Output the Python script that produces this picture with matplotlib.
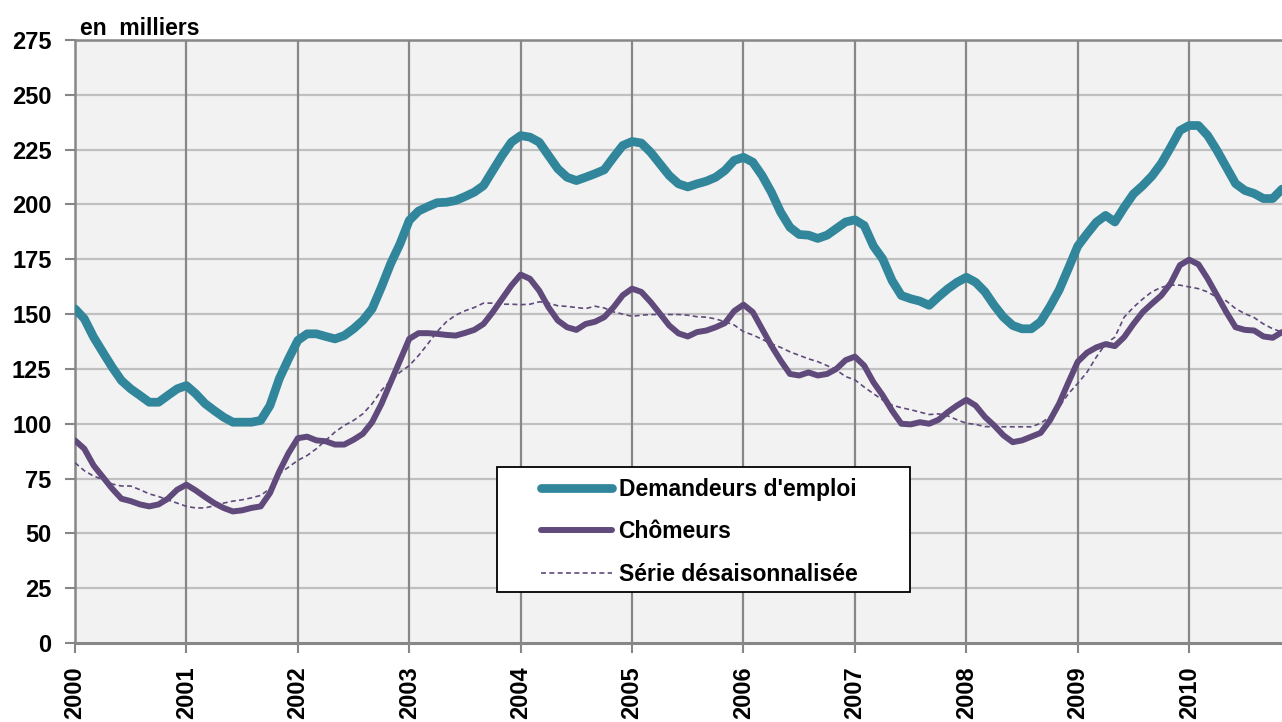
"""demandeurs d'emploi et chomeurs, series mensuelles 2000-2010"""

import matplotlib
matplotlib.use('Agg')
import matplotlib.pyplot as plt
from matplotlib.patches import Rectangle
import numpy as np

# monthly values, jan 2000 -> nov 2010 (en milliers)
demandeurs = [
    152.4, 147.9, 139.5, 132.6, 125.8, 119.7, 115.9, 112.9, 109.8, 109.8, 112.9, 115.9,
    117.4, 113.7, 109.2, 106.0, 103.0, 100.7, 100.7, 100.7, 101.5, 108.3, 120.5, 129.6,
    138.0, 141.0, 141.0, 139.8, 138.7, 140.2, 143.3, 147.1, 152.4, 162.3, 173.0, 182.0,
    192.7, 197.0, 199.0, 200.8, 201.0, 201.8, 203.6, 205.6, 208.6, 215.5, 222.3, 228.4,
    231.4, 230.7, 228.4, 222.3, 216.3, 212.4, 210.9, 212.4, 214.0, 215.8, 221.5, 226.9,
    228.7, 228.0, 223.8, 218.5, 213.2, 209.4, 208.0, 209.4, 210.6, 212.4, 215.5, 220.1,
    221.5, 219.3, 213.2, 205.6, 196.5, 189.6, 186.3, 186.0, 184.5, 186.0, 189.0, 192.0,
    193.0, 190.4, 181.0, 175.1, 165.3, 158.5, 157.0, 155.9, 154.0, 157.9, 161.5, 164.5,
    166.8, 164.5, 160.2, 154.0, 148.6, 144.8, 143.3, 143.3, 146.5, 153.3, 161.0, 170.9,
    181.0, 186.6, 191.9, 195.0, 192.0, 198.7, 204.8, 208.6, 213.0, 218.7, 226.0, 233.7,
    236.0, 236.0, 231.4, 224.6, 217.0, 209.5, 206.4, 205.0, 202.7, 202.7, 207.0,
]

chomeurs = [
    92.4, 88.6, 81.0, 75.7, 70.4, 65.8, 64.7, 63.2, 62.3, 63.2, 65.8, 69.9,
    72.2, 69.6, 66.6, 63.8, 61.6, 60.0, 60.5, 61.6, 62.3, 68.4, 78.2, 86.6,
    93.4, 94.1, 92.4, 92.0, 90.5, 90.5, 92.7, 95.4, 100.7, 109.0, 118.9, 128.8,
    138.7, 141.3, 141.3, 141.0, 140.5, 140.2, 141.4, 142.8, 145.5, 150.9, 157.0, 163.0,
    168.0, 166.1, 160.7, 153.1, 147.1, 144.0, 142.8, 145.5, 146.5, 148.6, 153.1, 158.6,
    161.6, 160.1, 155.5, 150.2, 144.8, 141.2, 139.8, 141.8, 142.5, 144.0, 145.9, 151.4,
    154.3, 150.9, 143.3, 135.6, 128.8, 122.7, 122.0, 123.4, 122.0, 122.7, 125.0, 129.0,
    130.6, 126.5, 118.9, 112.9, 106.0, 100.0, 99.7, 100.7, 100.0, 101.8, 105.3, 108.3,
    110.9, 108.3, 103.1, 99.2, 94.7, 91.6, 92.4, 94.1, 95.8, 101.5, 109.2, 118.9,
    128.3, 132.4, 134.8, 136.3, 135.4, 139.5, 145.5, 150.9, 154.8, 158.5, 164.0, 172.3,
    174.8, 172.7, 166.1, 158.5, 150.9, 144.0, 142.8, 142.5, 139.8, 139.2, 141.8,
]

chomeurs_cvs = [
    82.2, 78.6, 76.1, 74.6, 72.5, 71.6, 71.6, 69.9, 68.0, 66.8, 65.3, 63.8,
    62.3, 61.6, 61.6, 62.6, 63.8, 64.7, 65.3, 66.2, 67.3, 70.4, 77.2, 80.2,
    83.3, 85.5, 88.6, 92.4, 96.2, 99.2, 101.5, 104.5, 109.1, 115.2, 119.7, 123.5,
    126.5, 131.1, 136.4, 142.0, 146.5, 149.5, 151.5, 153.0, 155.0, 155.0, 154.5, 154.5,
    154.3, 154.5, 155.6, 155.0, 153.8, 153.5, 153.0, 152.5, 153.6, 152.8, 151.0, 150.0,
    149.0, 149.5, 149.8, 149.8, 149.8, 149.8, 149.5, 148.8, 148.6, 147.8, 146.5, 145.0,
    142.0, 140.5, 138.5, 136.5, 134.8, 132.8, 131.2, 129.6, 128.3, 126.5, 124.5, 121.5,
    120.0, 116.7, 113.7, 110.8, 108.5, 107.3, 106.4, 105.3, 104.2, 104.5, 103.6, 101.8,
    100.2, 99.7, 98.7, 98.6, 98.6, 98.6, 98.6, 98.6, 100.2, 103.1, 107.7, 113.7,
    118.4, 123.5, 130.4, 136.4, 139.5, 148.6, 153.1, 156.9, 160.2, 162.2, 163.2, 163.2,
    162.4, 161.6, 160.1, 157.6, 156.0, 152.5, 150.2, 148.4, 145.5, 143.3, 141.8,
]

years = list(range(2000, 2011))
labels = ["Demandeurs d'emploi", "Chômeurs", "Série désaisonnalisée"]

TEAL = '#31869B'
PURPLE = '#604A7B'

plt.rcParams['font.family'] = ['Liberation Sans', 'DejaVu Sans']
plt.rcParams['font.weight'] = 'bold'

x = 2000 + np.arange(len(demandeurs)) / 12.0

fig = plt.figure(figsize=(12.82, 7.22), dpi=100)
ax = fig.add_axes([75 / 1282, 79 / 722, 1207 / 1282, 603 / 722])
ax.set_facecolor('#F2F2F2')

ax.plot(x, demandeurs, color=TEAL, lw=6.3, solid_capstyle='round',
        solid_joinstyle='round', label=labels[0], zorder=4)
ax.plot(x, chomeurs, color=PURPLE, lw=4.3, solid_capstyle='round',
        solid_joinstyle='round', label=labels[1], zorder=4)
ax.plot(x, chomeurs_cvs, color=PURPLE, lw=1.2, ls=(0, (3, 2)),
        label=labels[2], zorder=4)

ax.set_xlim(2000, x[-1])
ax.set_ylim(0, 275)
ax.set_yticks(range(0, 276, 25))
ax.set_xticks(years)
ax.set_xticklabels([str(y) for y in years], rotation=90, fontsize=17,
                   fontweight='bold')
ax.tick_params(axis='y', labelsize=17, length=7, width=1.5, color='#868686',
               pad=10, direction='out')
ax.tick_params(axis='x', length=7, width=1.5, color='#868686', pad=10,
               direction='out')

# grid: light horizontal, darker vertical
for v in range(25, 276, 25):
    ax.axhline(v, color='#C0C0C0', lw=1.6, zorder=1)
for yr in years[1:]:
    ax.axvline(yr, color='#878787', lw=1.6, zorder=2)

for side in ['left', 'bottom', 'top']:
    ax.spines[side].set_color('#878787')
    ax.spines[side].set_linewidth(1.8)
ax.spines['right'].set_visible(False)
ax.spines['bottom'].set_linewidth(2.2)

ax.text(0.004, 1.008, 'en  milliers', transform=ax.transAxes, fontsize=16.5,
        fontweight='bold', ha='left', va='baseline')

# legend box
box = Rectangle((422 / 1207, 51 / 603), 413 / 1207, 125 / 603,
                transform=ax.transAxes, facecolor='white', edgecolor='black',
                lw=1.3, zorder=5)
ax.add_patch(box)
leg = ax.legend(loc='center', bbox_to_anchor=(624 / 1207, 111 / 603),
                frameon=False, fontsize=16.5, handlelength=3.1,
                handletextpad=0.3, labelspacing=0.85, borderaxespad=0)
leg.set_zorder(6)
for t in leg.get_texts():
    t.set_fontweight('bold')

fig.savefig('out.png', dpi=100)
